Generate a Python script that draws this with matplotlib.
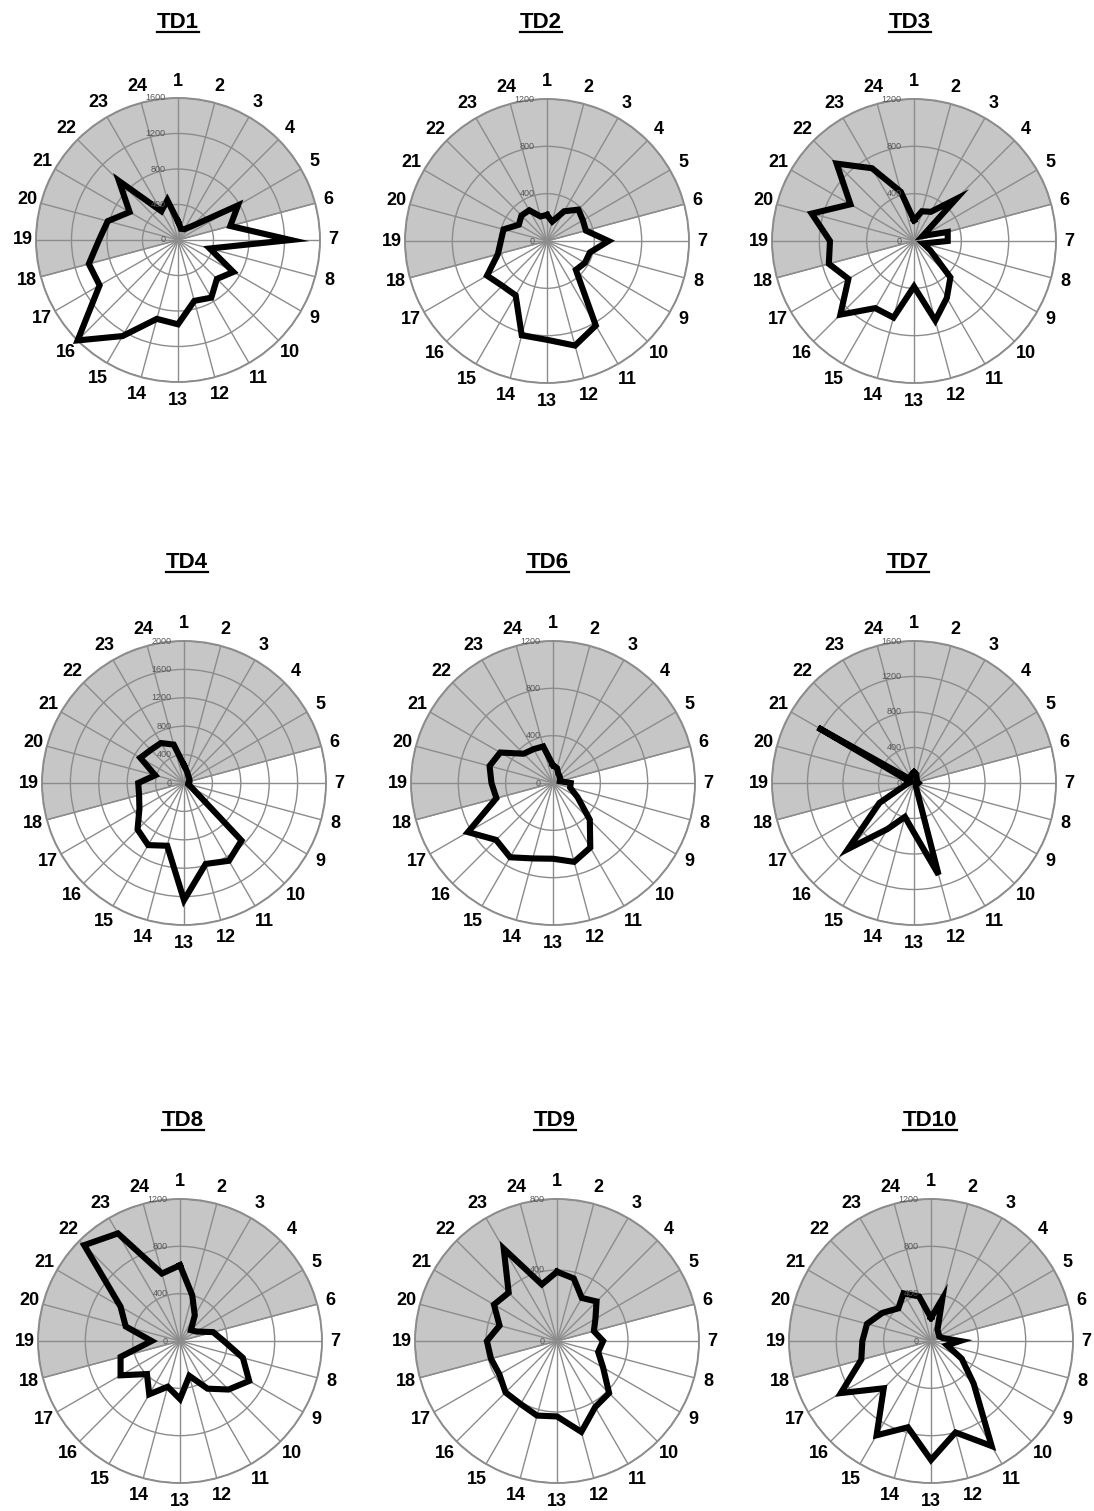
import numpy as np
import matplotlib
matplotlib.use('Agg')
import matplotlib.pyplot as plt
from matplotlib.transforms import ScaledTranslation, IdentityTransform
from matplotlib.lines import Line2D

plt.rcParams['font.family'] = ['Liberation Sans', 'DejaVu Sans']

# ---------------- data ----------------
hours = [str(h) for h in range(1, 25)]
titles = ['TD1', 'TD2', 'TD3', 'TD4', 'TD6', 'TD7', 'TD8', 'TD9', 'TD10']

td1 = [210, 130, 140, 220, 780, 610, 1270, 370, 720, 620, 750, 710,
       950, 920, 1250, 1600, 1020, 1040, 890, 820, 630, 940, 375, 465]
td2 = [220, 170, 290, 375, 350, 340, 520, 375, 370, 345, 825, 915,
       835, 825, 530, 535, 585, 430, 390, 380, 275, 305, 300, 215]
td3 = [175, 260, 285, 500, 85, 295, 285, 80, 160, 435, 555, 695,
       385, 670, 655, 880, 640, 745, 710, 895, 620, 925, 710, 430]
td4 = [250, 165, 120, 100, 90, 80, 60, 60, 120, 1145, 1265, 1180,
       1650, 915, 1010, 925, 725, 655, 645, 420, 710, 660, 650, 560]
td6 = [150, 130, 90, 80, 70, 60, 150, 150, 240, 440, 630, 690,
       640, 660, 725, 680, 830, 495, 520, 555, 515, 350, 330, 320]
td7 = [120, 100, 60, 40, 40, 40, 50, 40, 30, 30, 40, 1070,
       560, 395, 600, 1050, 450, 110, 60, 40, 1250, 60, 80, 100]
td8 = [640, 400, 250, 130, 160, 290, 370, 550, 675, 580, 465, 305,
       490, 400, 520, 395, 580, 520, 240, 475, 580, 1145, 1050, 590]
td9 = [390, 365, 280, 315, 250, 215, 260, 240, 300, 415, 430, 530,
       425, 435, 410, 410, 375, 385, 395, 335, 410, 385, 600, 330]
td10 = [195, 370, 110, 90, 80, 100, 245, 140, 300, 510, 1025, 800,
        1005, 755, 920, 565, 880, 610, 580, 560, 475, 390, 465, 390]

series = [td1, td2, td3, td4, td6, td7, td8, td9, td10]
rmax = [1600, 1200, 1200, 2000, 1200, 1600, 1200, 800, 1200]
ring_step = 400
night_start_hour = 18   # shaded sector from hour 18 ...
night_end_hour = 6      # ... round through 24/1 to hour 6

# ---------------- layout ----------------
W, H = 1094, 1511
R = 142
centers = [(178, 240), (547, 241), (914, 241),
           (184, 783), (553, 783), (914, 783),
           (180, 1341), (557, 1341), (931, 1341)]
title_pos = [(178, 22), (541, 22), (910, 22),
             (187, 563), (548, 563), (908, 563),
             (183, 1120), (555, 1120), (930, 1120)]

fig = plt.figure(figsize=(W / 100, H / 100), dpi=100)

theta = np.deg2rad(np.arange(24) * 15.0)
grid_col = '#8c8c8c'

for i, vals in enumerate(series):
    cx, cy = centers[i]
    ax = fig.add_axes([(cx - R) / W, 1 - (cy + R) / H, 2 * R / W, 2 * R / H],
                      projection='polar')
    ax.set_theta_zero_location('N')
    ax.set_theta_direction(-1)
    ax.set_ylim(0, rmax[i])

    # night sector
    t0 = theta[night_start_hour - 1]
    t1 = theta[night_end_hour - 1] + 2 * np.pi
    ax.bar(t0, rmax[i], width=t1 - t0, align='edge', bottom=0,
           color='#c6c6c6', edgecolor='#8c8c8c', linewidth=1.0, zorder=0.5)

    ax.set_xticks(theta)
    ax.set_xticklabels([])
    rings = np.arange(ring_step, rmax[i] + 1, ring_step)
    ax.set_yticks(rings)
    ax.set_yticklabels([])
    ax.grid(True, color=grid_col, linewidth=1.0)
    ax.spines['polar'].set_color(grid_col)
    ax.spines['polar'].set_linewidth(1.4)
    ax.set_facecolor('white')

    # hour labels around the rim
    for th, lab in zip(theta, hours):
        s, c = np.sin(th), np.cos(th)
        d = 13 + 4 * abs(c) + 1.5 * max(0.0, -c)   # pixels beyond the rim
        tr = ax.transData + ScaledTranslation(d * s / 100, d * c / 100,
                                              fig.dpi_scale_trans)
        ax.text(th, rmax[i], lab, transform=tr, ha='center', va='center',
                fontsize=13, fontweight='bold', clip_on=False)

    off = ax.transData + ScaledTranslation(-9 / 72, 0, fig.dpi_scale_trans)
    for r in [0] + list(rings):
        ax.text(0, r, f'{r}', transform=off, ha='right', va='center',
                fontsize=6.5, color='#555555', zorder=4)

    tt = np.append(theta, theta[0])
    vv = np.append(vals, vals[0])
    ax.plot(tt, vv, color='black', linewidth=4.4, solid_joinstyle='miter',
            zorder=3, clip_on=False)

# titles with underline
title_texts = []
for (tx, ty), t in zip(title_pos, titles):
    title_texts.append(fig.text(tx / W, 1 - ty / H, t, ha='center', va='center',
                                fontsize=16, fontweight='bold'))
fig.canvas.draw()
renderer = fig.canvas.get_renderer()
for txt in title_texts:
    bb = txt.get_window_extent(renderer)
    y = bb.y0 + 1
    fig.add_artist(Line2D([bb.x0, bb.x1], [y, y], color='black', linewidth=1.6,
                          transform=IdentityTransform()))

fig.savefig('out.png', dpi=100, facecolor='white')
